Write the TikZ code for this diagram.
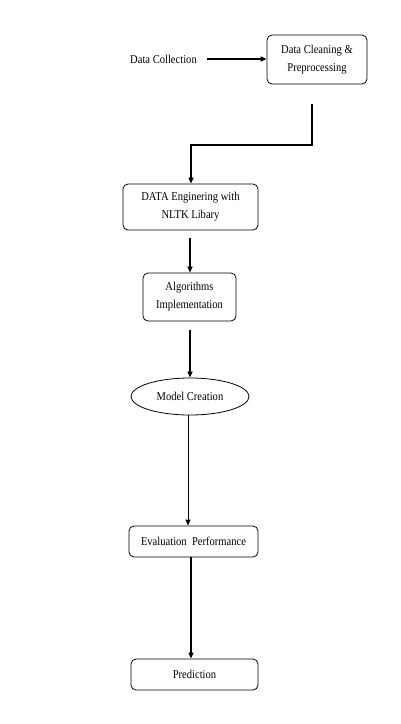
\documentclass[tikz,border=0pt]{standalone}
\usepackage{fontspec}
\setmainfont{Liberation Serif}[FakeStretch=0.88]
\usetikzlibrary{arrows.meta,shapes.geometric}
\begin{document}
\begin{tikzpicture}[x=1pt,y=-1pt,
  font=\fontsize{12}{18}\selectfont,
  stepbox/.style={draw,rounded corners=5pt,line width=0.8pt,align=center,inner sep=0pt},
  arr/.style={line width=1.8pt,-{Triangle[length=6pt,width=5pt]}},
  thinarr/.style={line width=0.8pt,-{Triangle[length=6pt,width=5pt]}}]
\useasboundingbox[fill=white] (0,0) rectangle (400,724);
\node (dc) at (163.5,59) {Data Collection};
\node[stepbox,minimum width=100pt,minimum height=49pt] (b1) at (317,59.5) {Data Cleaning \&\\Preprocessing};
\node[stepbox,minimum width=135pt,minimum height=46pt] (b2) at (190.5,207) {DATA Enginering with\\NLTK Libary};
\node[stepbox,minimum width=93pt,minimum height=48pt] (b3) at (189.5,297) {Algorithms\\Implementation};
\node[draw,ellipse,line width=0.8pt,minimum width=118pt,minimum height=37pt,inner sep=0pt] (mc) at (190,396.5) {Model Creation};
\node[stepbox,minimum width=129pt,minimum height=31pt] (ev) at (193.5,541.5) {Evaluation\ \ Performance};
\node[stepbox,minimum width=127pt,minimum height=31pt] (pr) at (194.5,674.5) {Prediction};
\coordinate (c1) at (312,104);
\coordinate (c2) at (191,145);
\draw[arr,shorten <=7pt] (dc.east) -- (dc.east -| b1.west);
\draw[arr] (c1) |- (c2) -- (c2 |- b2.north);
\draw[arr,shorten <=8pt] (b2.south -| 190,0) -- (190,0 |- b3.north);
\draw[arr,shorten <=9pt] (b3.south -| 190,0) -- (190,0 |- mc.north);
\draw[thinarr] (mc.south -| 188,0) -- (188,0 |- ev.north);
\draw[arr] (ev.south -| 191,0) -- (191,0 |- pr.north);
\end{tikzpicture}
\end{document}
